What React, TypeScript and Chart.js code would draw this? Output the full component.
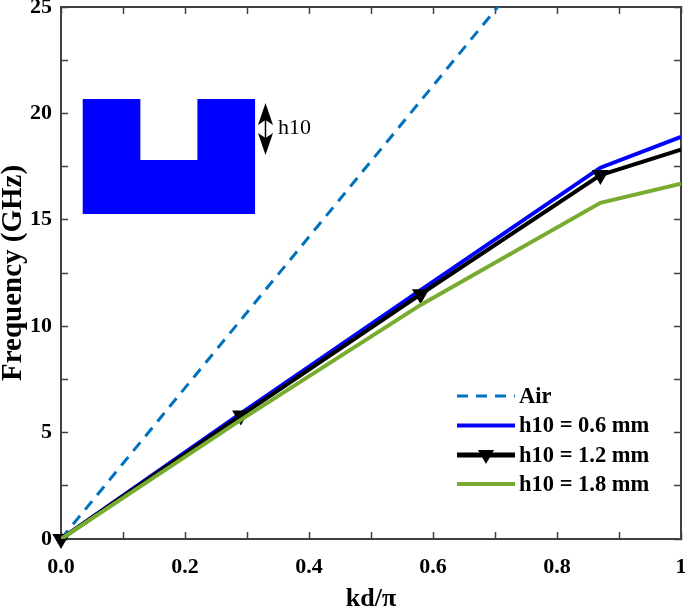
import React, { useEffect, useRef } from "react";
import { Chart, registerables } from "chart.js";

Chart.register(...registerables);

const kd = [0, 0.29, 0.58, 0.87, 1];
const airX = [0, 1];
const airFreq = [0, 35.5];
const h06 = [0, 5.9, 11.7, 17.45, 18.9];
const h12 = [0, 5.8, 11.5, 17.1, 18.3];
const h18 = [0, 5.6, 11.0, 15.8, 16.7];
const seriesNames = ["Air", "h10 = 0.6 mm", "h10 = 1.2 mm", "h10 = 1.8 mm"];
const xTickLabels: Record<string, string> = { "0": "0.0", "0.2": "0.2", "0.4": "0.4", "0.6": "0.6", "0.8": "0.8", "1": "1" };
const yTickLabels = [0, 5, 10, 15, 20, 25];
const insetX = [0.035, 0.128, 0.128, 0.22, 0.22, 0.313, 0.313, 0.035, 0.035];
const insetY = [20.68, 20.68, 17.81, 17.81, 20.68, 20.68, 15.27, 15.27, 20.68];

const pts = (xs: number[], ys: number[]) => xs.map((x, i) => ({ x, y: ys[i] }));
const SERIF = '"Liberation Serif", "Times New Roman", serif';
const AIR = "#0072bd", BLUE = "#0000ff", BLACK = "#000000", GREEN = "#77ac30", AXIS = "#404040";

const annotations = {
  id: "annotations",
  afterDatasetsDraw(chart: any) {
    const c = chart.ctx;
    c.save();
    // double-headed arrow beside the inset
    const ax = 265.5;
    c.fillStyle = "#000";
    c.strokeStyle = "#000";
    c.lineWidth = 1.5;
    c.beginPath(); c.moveTo(ax, 103); c.lineTo(258, 125); c.lineTo(ax, 120); c.lineTo(273, 125); c.closePath(); c.fill();
    c.beginPath(); c.moveTo(ax, 155); c.lineTo(258, 133); c.lineTo(ax, 138); c.lineTo(273, 133); c.closePath(); c.fill();
    c.beginPath(); c.moveTo(ax, 115); c.lineTo(ax, 145); c.stroke();
    c.font = `22px ${SERIF}`;
    c.textBaseline = "middle";
    c.fillText("h10", 278, 128.5);

    // legend
    const rows = [396, 425.5, 455, 484];
    const styles = [
      { color: AIR, width: 3, dash: [11, 8] },
      { color: BLUE, width: 4, dash: [] },
      { color: BLACK, width: 5, dash: [] },
      { color: GREEN, width: 4, dash: [] },
    ];
    c.font = `bold 22.5px ${SERIF}`;
    seriesNames.forEach((name, i) => {
      const s = styles[i];
      c.beginPath();
      c.strokeStyle = s.color;
      c.lineWidth = s.width;
      c.setLineDash(s.dash);
      c.moveTo(457, rows[i]);
      c.lineTo(515, rows[i]);
      c.stroke();
      c.setLineDash([]);
      c.fillStyle = "#000";
      c.textBaseline = "middle";
      c.fillText(name, 519, rows[i] + 1);
    });
    c.beginPath();
    c.moveTo(478, 450); c.lineTo(494, 450); c.lineTo(486, 464); c.closePath();
    c.fillStyle = "#000";
    c.fill();
    c.restore();
  },
};

const tickGrid = { drawOnChartArea: false, tickLength: -7, tickWidth: 1.5, tickColor: AXIS };
const border = { color: AXIS, width: 2 };
const noPad = (s: any) => { s.paddingLeft = 0; s.paddingRight = 0; s.paddingTop = 0; s.paddingBottom = 0; };

export default function App() {
  const ref = useRef<HTMLCanvasElement>(null);
  useEffect(() => {
    document.body.style.margin = "0";
    const chart = new Chart(ref.current as HTMLCanvasElement, {
      type: "scatter",
      data: {
        datasets: [
          { label: "inset", data: pts(insetX, insetY), showLine: true, fill: "shape", backgroundColor: "#0000ff", borderColor: "#0000ff", borderWidth: 0, pointRadius: 0, order: 5, tension: 0 },
          { label: seriesNames[0], data: pts(airX, airFreq), showLine: true, borderColor: AIR, borderWidth: 3, borderDash: [11, 8], pointRadius: 0, order: 4 },
          { label: seriesNames[1], data: pts(kd, h06), showLine: true, borderColor: BLUE, borderWidth: 4, pointRadius: 0, order: 3 },
          { label: seriesNames[2], data: pts(kd, h12), showLine: true, borderColor: BLACK, borderWidth: 4, order: 2, clip: false,
            pointStyle: "triangle", pointRotation: 180, pointRadius: [10, 10, 10, 10, 0], pointBackgroundColor: BLACK, pointBorderColor: BLACK, pointBorderWidth: 0 } as any,
          { label: seriesNames[3], data: pts(kd, h18), showLine: true, borderColor: GREEN, borderWidth: 4, pointRadius: 0, order: 1 },
        ],
      },
      options: {
        responsive: false,
        animation: false,
        layout: { autoPadding: false, padding: { top: 7, right: 4, left: 0, bottom: 0 } },
        plugins: { legend: { display: false }, tooltip: { enabled: false } },
        scales: {
          x: {
            type: "linear", position: "bottom", min: 0, max: 1,
            grid: tickGrid, border,
            ticks: {
              stepSize: 0.1, autoSkip: false, maxRotation: 0, padding: 22,
              color: "#000", font: { family: SERIF, weight: "bold", size: 22 },
              callback: (v: any) => xTickLabels[String(Math.round(Number(v) * 10) / 10)] ?? "",
            },
            title: { display: true, text: "kd/\u03c0", color: "#000", font: { family: SERIF, weight: "bold", size: 26 }, padding: { top: 0, bottom: -8 } },
            afterFit: (s: any) => { s.height = 68; noPad(s); },
          },
          y: {
            type: "linear", position: "left", min: 0, max: 25,
            grid: tickGrid, border,
            ticks: {
              stepSize: 2.5, autoSkip: false, padding: 16,
              color: "#000", font: { family: SERIF, weight: "bold", size: 22 },
              callback: (v: any) => (yTickLabels.includes(Number(v)) ? String(v) : ""),
            },
            title: { display: true, text: "Frequency (GHz)", color: "#000", font: { family: SERIF, weight: "bold", size: 29 }, padding: { top: -4, bottom: 0 } },
            afterFit: (s: any) => { s.width = 61; noPad(s); },
          },
          x2: {
            type: "linear", position: "top", min: 0, max: 1, grid: tickGrid, border,
            ticks: { stepSize: 0.1, autoSkip: false, display: true, padding: 0, font: { size: 1 }, callback: () => "" },
            afterFit: (s: any) => { s.height = 0; noPad(s); },
          },
          y2: {
            type: "linear", position: "right", min: 0, max: 25, grid: tickGrid, border,
            ticks: { stepSize: 2.5, autoSkip: false, display: true, padding: 0, font: { size: 1 }, callback: () => "" },
            afterFit: (s: any) => { s.width = 0; noPad(s); },
          },
        },
      } as any,
      plugins: [annotations],
    });
    return () => chart.destroy();
  }, []);
  return <canvas ref={ref} width={685} height={607} style={{ display: "block" }} />;
}
